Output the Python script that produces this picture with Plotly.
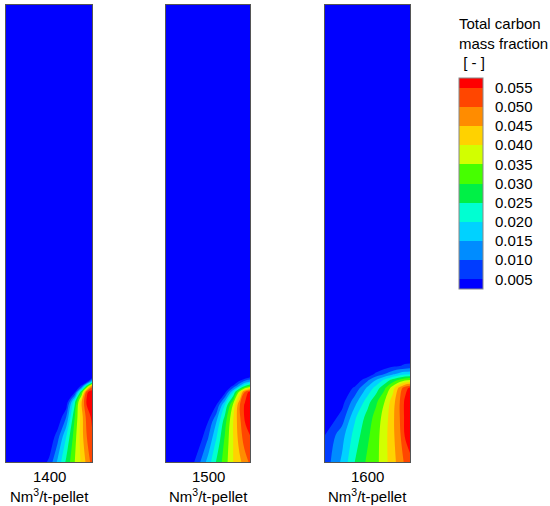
import plotly.graph_objects as go

# carbon mass fraction
# columns: position across the furnace (0 = left wall, 1 = right wall)
cols = [0.0, 0.2, 0.35, 0.5, 0.6, 0.7, 0.8, 0.88, 0.94, 1.0]

# rows: height above the bottom of the panel (px of a 457 px tall panel)
rows_1400 = [0, 25, 45, 60, 70, 76, 80, 85, 457]
z_1400 = [
    [0, 0, 0, 0.006, 0.016, 0.026, 0.035, 0.041, 0.0465, 0.052],
    [0, 0, 0, 0, 0.008, 0.020, 0.033, 0.043, 0.050, 0.054],
    [0, 0, 0, 0, 0, 0.010, 0.030, 0.043, 0.052, 0.056],
    [0, 0, 0, 0, 0, 0.001, 0.024, 0.045, 0.056, 0.058],
    [0, 0, 0, 0, 0, 0, 0.004, 0.030, 0.054, 0.058],
    [0, 0, 0, 0, 0, 0, 0, 0.006, 0.028, 0.048],
    [0, 0, 0, 0, 0, 0, 0, 0, 0.0045, 0.020],
    [0, 0, 0, 0, 0, 0, 0, 0, 0, 0],
    [0, 0, 0, 0, 0, 0, 0, 0, 0, 0],
]

rows_1500 = [0, 20, 40, 57, 70, 76, 80, 84, 88, 457]
z_1500 = [
    [0, 0, 0.0055, 0.017, 0.0255, 0.0325, 0.040, 0.044, 0.0475, 0.051],
    [0, 0, 0, 0.011, 0.021, 0.031, 0.040, 0.047, 0.052, 0.054],
    [0, 0, 0, 0.005, 0.015, 0.028, 0.040, 0.049, 0.055, 0.057],
    [0, 0, 0, 0, 0.005, 0.020, 0.036, 0.050, 0.056, 0.058],
    [0, 0, 0, 0, 0, 0.003, 0.020, 0.038, 0.051, 0.057],
    [0, 0, 0, 0, 0, 0, 0.0058, 0.016, 0.025, 0.031],
    [0, 0, 0, 0, 0, 0, 0, 0.0075, 0.013, 0.016],
    [0, 0, 0, 0, 0, 0, 0, 0, 0.0035, 0.006],
    [0, 0, 0, 0, 0, 0, 0, 0, 0, 0],
    [0, 0, 0, 0, 0, 0, 0, 0, 0, 0],
]

rows_1600 = [0, 27, 45, 60, 74, 82, 88, 94, 99, 103, 457]
z_1600 = [
    [0.007, 0.016, 0.025, 0.031, 0.0335, 0.038, 0.0435, 0.047, 0.051, 0.054],
    [0.005, 0.013, 0.022, 0.029, 0.033, 0.038, 0.044, 0.049, 0.0555, 0.057],
    [0, 0.007, 0.019, 0.027, 0.032, 0.037, 0.044, 0.050, 0.056, 0.058],
    [0, 0.003, 0.013, 0.023, 0.029, 0.035, 0.043, 0.050, 0.056, 0.058],
    [0, 0, 0.006, 0.016, 0.022, 0.029, 0.038, 0.047, 0.053, 0.056],
    [0, 0, 0, 0.009, 0.015, 0.021, 0.027, 0.031, 0.034, 0.035],
    [0, 0, 0, 0, 0.0065, 0.010, 0.014, 0.017, 0.0185, 0.019],
    [0, 0, 0, 0, 0, 0.004, 0.0065, 0.008, 0.009, 0.0095],
    [0, 0, 0, 0, 0, 0, 0, 0, 0.004, 0.0045],
    [0, 0, 0, 0, 0, 0, 0, 0, 0, 0],
    [0, 0, 0, 0, 0, 0, 0, 0, 0, 0],
]

panels = [
    ("1400", rows_1400, z_1400),
    ("1500", rows_1500, z_1500),
    ("1600", rows_1600, z_1600),
]

# legend levels and band colours (lowest band first)
levels = [0.005, 0.010, 0.015, 0.020, 0.025, 0.030, 0.035, 0.040, 0.045, 0.050, 0.055]
band_colors = [
    "#0000ff", "#003cff", "#008cff", "#00d2ff", "#00ffd2", "#00f046",
    "#46ff00", "#d2ff00", "#ffd200", "#ff8c00", "#ff4600", "#ff0000",
]

# step colorscale over [0, 0.055]; each colour covers both its band's lower
# level and its midpoint, so it does not matter which one plotly samples
n = len(levels)
colorscale = []
for k, c in enumerate(band_colors):
    lo = max(0.0, (k - 0.25) / n)
    hi = min(1.0, (k + 0.75) / n)
    colorscale.append([lo, c])
    colorscale.append([hi, c])

W, H = 550, 506
x_px = [(6, 92), (166, 250), (325, 410)]
y_top, y_bot = 5, 462

fig = go.Figure()
for i, (label, rows, z) in enumerate(panels):
    n_ax = "" if i == 0 else str(i + 1)
    fig.add_trace(go.Contour(
        x=cols, y=rows, z=z,
        xaxis="x" + n_ax, yaxis="y" + n_ax,
        colorscale=colorscale,
        contours=dict(start=levels[0], end=levels[-1], size=0.005,
                      coloring="fill", showlines=False),
        line=dict(smoothing=1.0, width=0),
        showscale=(i == 0),
        hoverinfo="skip",
        colorbar=dict(
            x=459 / W, xanchor="left", xpad=0,
            y=1 - 183.5 / H, yanchor="middle", ypad=0,
            len=211 / H, lenmode="fraction",
            thickness=24, thicknessmode="pixels",
            outlinewidth=1, outlinecolor="#888888",
            tickvals=levels, tickformat=".3f",
            ticks="outside", ticklen=9, tickcolor="rgba(0,0,0,0)",
            tickfont=dict(size=15, color="#000000"),
        ),
    ))
    axis_common = dict(showgrid=False, zeroline=False, showticklabels=False,
                       ticks="", showline=True, linecolor="#555555",
                       linewidth=1, mirror=True)
    x0, x1 = x_px[i]
    fig.layout["xaxis" + n_ax] = dict(axis_common, domain=[x0 / W, x1 / W],
                                      range=[0, 1], anchor="y" + n_ax)
    fig.layout["yaxis" + n_ax] = dict(axis_common, domain=[1 - y_bot / H, 1 - y_top / H],
                                      range=[0, 457], anchor="x" + n_ax)
    for text, yc in ((label, 476), ("Nm<sup>3</sup>/t-pellet", 495)):
        fig.add_annotation(
            text=text, xref="paper", yref="paper",
            x=(x0 + x1) / 2 / W, y=1 - yc / H,
            xanchor="center", yanchor="middle", showarrow=False,
            font=dict(size=15, color="#000000"),
        )

fig.add_annotation(
    text="Total carbon<br>mass fraction<br> [ - ]",
    xref="paper", yref="paper", x=457 / W, y=1 - 13 / H,
    xanchor="left", yanchor="top", align="left", showarrow=False,
    font=dict(size=15, color="#000000"),
)

fig.update_layout(
    width=W, height=H,
    margin=dict(l=0, r=0, t=0, b=0),
    paper_bgcolor="white", plot_bgcolor="white",
    font=dict(family="Arial, Liberation Sans, sans-serif"),
    showlegend=False,
)

# the page body has a default 8px margin; drop it so the figure fills the window
fig.write_html("out.html", config={"displayModeBar": False},
               post_script="document.body.style.margin='0';")
